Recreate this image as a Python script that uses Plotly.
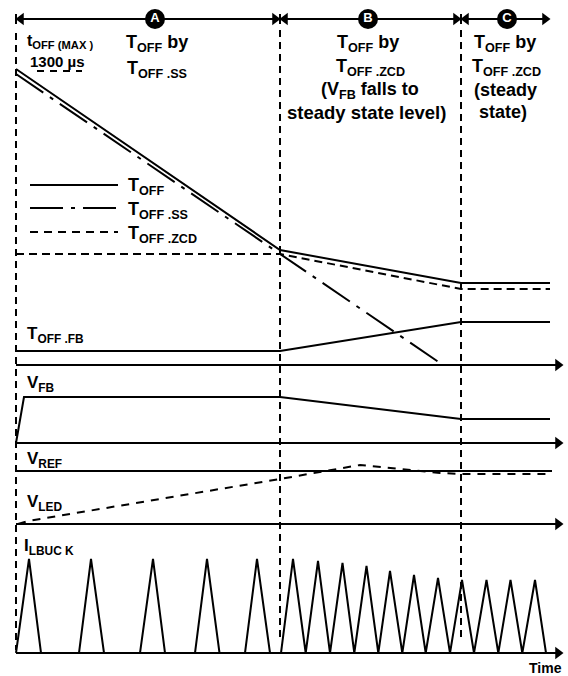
import plotly.graph_objects as go

# ---- data (time units along x, signal levels along y; y axis reversed) ----
phase_t = [16, 280, 461]          # boundaries of phases A / B / C
phase_end = 550
axis_end = 562

toff_t = [16, 280, 461, 550]
toff_v = [69, 250, 283, 283]
toff_ss_t = [16, 443]
toff_ss_v = [74, 365]
toff_zcd_t = [16, 280, 461, 550]
toff_zcd_v = [254, 254, 289, 289]
toff_fb_t = [16, 280, 461, 550]
toff_fb_v = [351, 351, 322, 322]
vfb_t = [16, 24, 280, 461, 550]
vfb_v = [443, 397, 397, 419, 419]
vref_t = [16, 552]
vref_v = [471, 471]
vled_t = [18, 28, 280, 320, 360, 400, 440, 461, 552]
vled_v = [524, 521, 479, 472, 465, 469, 473, 474, 474]
baselines = [365, 443, 524, 653]

pulse_on = [16, 79, 140, 195, 245, 281, 305.7, 330, 354.3, 378.3, 402.3, 425.7, 450, 474, 498.3, 522.3]
pulse_pk_t = [29, 91, 153, 207, 257, 293, 318, 342.5, 366.5, 390, 414, 438, 462, 486.5, 510.5, 535]
pulse_off = [41, 104, 165, 219.5, 270, 305.7, 330, 354.3, 378.3, 402.3, 425.7, 450, 474, 498.3, 522.3, 546]
pulse_pk_v = [559, 559, 559, 559, 559, 559, 561, 563, 566, 571, 575, 578, 580, 580, 580, 580]
i_base = 653

phase_labels = ["A", "B", "C"]
phase_label_t = [155, 368, 507]
top_y = 19

FONT = "Liberation Sans"
K = "black"
LW = 2

fig = go.Figure()

def line(x, y, dash="solid", w=LW):
    fig.add_trace(go.Scatter(x=x, y=y, mode="lines", hoverinfo="skip",
                             line=dict(color=K, width=w, dash=dash)))

def marker(x, y, sym, size=10):
    fig.add_trace(go.Scatter(x=x, y=y, mode="markers", hoverinfo="skip",
                             marker=dict(symbol=sym, size=size, color=K,
                                         line=dict(width=0))))

# vertical dashed phase boundaries
line([phase_t[0], phase_t[0]], [33, 650], dash="7px,5px")
line([phase_t[1], phase_t[1]], [30, 642], dash="7px,5px")
line([phase_t[2], phase_t[2]], [30, 642], dash="7px,5px")

# top double arrows
bounds = [phase_t[0], phase_t[1], phase_t[2], phase_end]
line([bounds[0], bounds[-1] - 4], [top_y, top_y])
for b in bounds[:3]:
    line([b, b], [top_y - 5, top_y + 5])
marker([b + 5 for b in bounds[:3]], [top_y] * 3, "triangle-left", 11)
marker([b - 5 for b in bounds[1:]], [top_y] * 3, "triangle-right", 11)
fig.add_trace(go.Scatter(x=phase_label_t, y=[top_y] * 3, mode="markers+text",
                         text=["<b>%s</b>" % s for s in phase_labels],
                         textposition="middle center", hoverinfo="skip",
                         textfont=dict(family=FONT, size=13, color="white"),
                         marker=dict(size=20, color=K)))

# T_OFF(MAX) level marker
line([37, 82], [71, 71], dash="7px,6px")

# top panel
line(toff_t, toff_v)
line(toff_ss_t, toff_ss_v, dash="33px,8px,4px,8px")
line(toff_zcd_t, toff_zcd_v, dash="8px,5px")
line(toff_fb_t, toff_fb_v)

# in-plot legend
line([30, 118], [185, 185])
line([30, 118], [208, 208], dash="33px,8px,4px,8px")
line([30, 118], [232, 232], dash="8px,6px")

# V_FB, V_REF, V_LED
line(vfb_t, vfb_v)
line(vref_t, vref_v)
line(vled_t, vled_v, dash="8px,7px")

# I_LBUCK triangles
ix, iy = [], []
for a, p, b, h in zip(pulse_on, pulse_pk_t, pulse_off, pulse_pk_v):
    ix += [a, p, b]
    iy += [i_base, h, i_base]
line(ix, iy)

# baselines with arrowheads
for yb in baselines:
    line([phase_t[0], axis_end - 3], [yb, yb])
marker([axis_end - 4] * len(baselines), baselines, "triangle-right", 11)

def txt(x, y, s, size=17, anchor="left"):
    fig.add_annotation(x=x, y=y, text="<b>%s</b>" % s, showarrow=False,
                       xanchor=anchor, yanchor="middle",
                       font=dict(family=FONT, size=size, color=K))

txt(25, 41, "t<sub>OFF (MAX )</sub>", 16)
txt(28, 61, "1300 µs", 15)
txt(157, 43, "T<sub>OFF</sub> by", 18, "center")
txt(157, 69, "T<sub>OFF .SS</sub>", 18, "center")
txt(368, 43, "T<sub>OFF</sub> by", 18, "center")
txt(370, 67, "T<sub>OFF .ZCD</sub>", 18, "center")
txt(370, 90, "(V<sub>FB</sub> falls to", 18, "center")
txt(366, 112, "steady state level)", 18.5, "center")
txt(505, 43, "T<sub>OFF</sub> by", 18, "center")
txt(506, 67, "T<sub>OFF .ZCD</sub>", 18, "center")
txt(505, 90, "(steady", 18, "center")
txt(503, 112, "state)", 18, "center")

txt(126, 186, "T<sub>OFF</sub>", 18)
txt(126, 210, "T<sub>OFF .SS</sub>", 18)
txt(126, 234, "T<sub>OFF .ZCD</sub>", 18)

txt(25, 335, "T<sub>OFF .FB</sub>", 17)
txt(25, 384, "V<sub>FB</sub>", 17)
txt(25, 460, "V<sub>REF</sub>", 17)
txt(25, 503, "V<sub>LED</sub>", 17)
txt(22, 547, "I<sub>LBUC K</sub>", 17)
txt(545, 668, "Time", 14, "center")

fig.update_layout(width=568, height=676, margin=dict(l=0, r=0, t=0, b=0),
                  paper_bgcolor="white", plot_bgcolor="white", showlegend=False,
                  xaxis=dict(range=[0, 568], visible=False, fixedrange=True),
                  yaxis=dict(range=[676, 0], visible=False, fixedrange=True))
fig.write_html("out.html", config={"displayModeBar": False},
               post_script="document.body.style.margin='0';document.body.style.overflow='hidden';")
